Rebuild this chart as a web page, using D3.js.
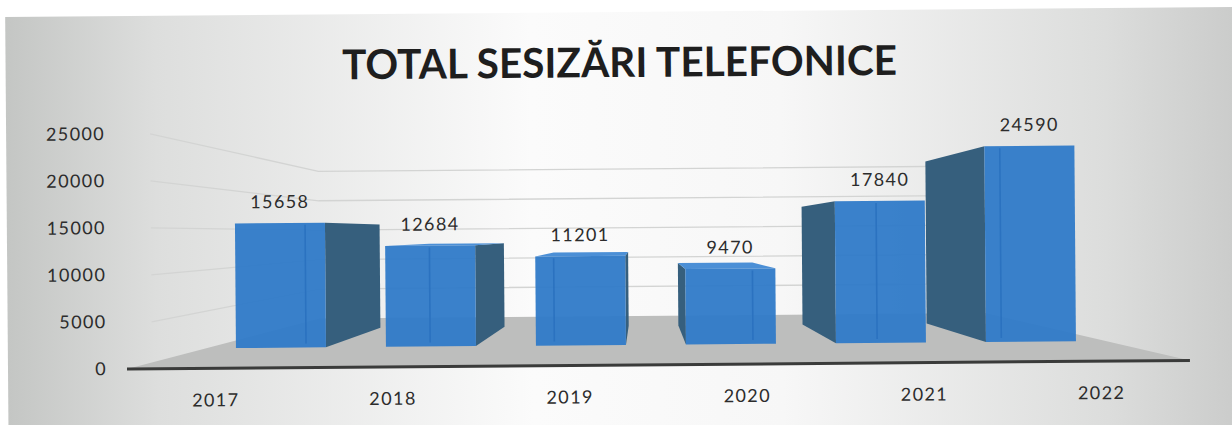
<!DOCTYPE html>
<html lang="ro">
<head>
<meta charset="UTF-8">
<title>Total sesizări telefonice</title>
<script src="https://d3js.org/d3.v7.min.js"></script>
<style>
  html, body { margin: 0; padding: 0; background: #ffffff; }
  svg { display: block; }
  .lbl { font-family: Lato, "Open Sans", sans-serif; font-size: 18px; fill: #2c2c2c; letter-spacing: 1.4px; }
  .title { font-family: Lato, "Open Sans", sans-serif; font-weight: 700; font-size: 41px; fill: #1e1e1e; }
</style>
</head>
<body>
<script>
// data
const years = ["2017", "2018", "2019", "2020", "2021", "2022"];
const values = [15658, 12684, 11201, 9470, 17840, 24590];
const yTicks = [0, 5000, 10000, 15000, 20000, 25000];
const title = "TOTAL SESIZĂRI TELEFONICE";

const W = 1232, H = 425;

const svg = d3.select("body").append("svg")
    .attr("width", W)
    .attr("height", H);

const defs = svg.append("defs");
const bg = defs.append("linearGradient").attr("id", "bg")
    .attr("x1", "0%").attr("x2", "100%").attr("y1", "0%").attr("y2", "0%");
[[0, "#c4c6c4"], [0.12, "#dddedd"], [0.42, "#fbfbfb"], [0.62, "#f7f7f7"], [0.88, "#dcdddc"], [1, "#c8c9c8"]]
    .forEach(([o, c]) => bg.append("stop").attr("offset", o).attr("stop-color", c));

// the scan is slightly rotated
const root = svg.append("g").attr("transform", "rotate(-0.46,127,369)");

root.append("rect")
    .attr("x", 8).attr("y", 16)
    .attr("width", 1250).attr("height", 430)
    .attr("fill", "url(#bg)");

// front-plane scales
const x = d3.scaleBand().domain(years).range([127, 1190]);
const y = d3.scaleLinear().domain([0, 25000]).range([369, 134]);
// depth: 0 = front edge of floor, 1 = back wall
const depth = d3.scaleLinear().domain([0, 1]).range([1, 0.626]);
const vp = { x: 643, y: 238 };

function proj(X, Y, d) {
  const s = depth(d);
  return [vp.x + (X - vp.x) * s, vp.y + (Y - vp.y) * s];
}
const line = d3.line();

const x0 = x.range()[0], x1 = x.range()[1];

// floor
root.append("path")
    .attr("d", line([proj(x0, y(0), 0), proj(x1, y(0), 0), proj(x1, y(0), 1), proj(x0, y(0), 1)]) + "Z")
    .attr("fill", "#bdbebd");

// gridlines on left wall and back wall
const grid = root.append("g")
    .attr("fill", "none")
    .attr("stroke", "#d3d4d3")
    .attr("stroke-width", 1.3);
yTicks.filter(t => t > 0).forEach(t => {
  grid.append("path").attr("d", line([
    proj(x0 + 25, y(t), 0), proj(x0, y(t), 1), proj(x1, y(t), 1)
  ]));
});

// bars
const barD0 = 0.41, barD1 = 0.80;
const bw = x.bandwidth() * 0.6;
const bars = years.map((yr, i) => {
  const xl = x(yr) + (x.bandwidth() - bw) / 2;
  return { yr, v: values[i], xl, xr: xl + bw, cx: xl + bw / 2 };
}).sort((a, b) => Math.abs(b.cx - vp.x) - Math.abs(a.cx - vp.x));

const barG = root.append("g");
bars.forEach(b => {
  const g = barG.append("g");
  const yt = y(b.v), yb = y(0);
  const sideX = b.cx < vp.x ? b.xr : b.xl;
  const farX = b.cx < vp.x ? b.xl : b.xr;

  g.append("path")
      .attr("d", line([proj(sideX, yt, barD0), proj(sideX, yt, barD1), proj(sideX, yb, barD1), proj(sideX, yb, barD0)]) + "Z")
      .attr("fill", "#365f7d");

  if (proj(b.xl, yt, barD0)[1] > vp.y) {
    g.append("path")
        .attr("d", line([proj(b.xl, yt, barD0), proj(b.xr, yt, barD0), proj(b.xr, yt, barD1), proj(b.xl, yt, barD1)]) + "Z")
        .attr("fill", "#4b8fd6");
  }

  g.append("path")
      .attr("d", line([proj(b.xl, yt, barD0), proj(b.xr, yt, barD0), proj(b.xr, yb, barD0), proj(b.xl, yb, barD0)]) + "Z")
      .attr("fill", "#2f7ac8")
      .attr("fill-opacity", 0.95);

  // back edge showing through the front face
  const eTop = proj(farX, yt, barD1), eBot = proj(farX, yb, barD1);
  const fBot = proj(farX, yb, barD0);
  g.append("path")
      .attr("d", line([[eTop[0], proj(farX, yt, barD0)[1] + 2], [eBot[0], fBot[1] - 4]]))
      .attr("stroke", "#2b72c0")
      .attr("stroke-width", 1.6);

  const top = proj(b.cx, yt, barD0);
  root.append("text")
      .attr("class", "lbl")
      .attr("x", top[0])
      .attr("y", top[1] - 15)
      .attr("text-anchor", "middle")
      .text(b.v);
});

// axis line (front edge of floor)
root.append("path")
    .attr("d", line([[x0, y(0)], [x1, y(0)]]))
    .attr("stroke", "#3a3b3a")
    .attr("stroke-width", 3);

// y tick labels
root.selectAll("text.ytick")
    .data(yTicks)
    .join("text")
    .attr("class", "lbl ytick")
    .attr("x", 107)
    .attr("y", d => y(d) + 6)
    .attr("text-anchor", "end")
    .text(d => d);

// category labels
root.selectAll("text.xtick")
    .data(years)
    .join("text")
    .attr("class", "lbl xtick")
    .attr("x", d => x(d) + x.bandwidth() / 2)
    .attr("y", 407)
    .attr("text-anchor", "middle")
    .text(d => d);

root.append("text")
    .attr("class", "title")
    .attr("x", 622)
    .attr("y", 81)
    .attr("text-anchor", "middle")
    .attr("textLength", 555)
    .attr("lengthAdjust", "spacingAndGlyphs")
    .text(title);
</script>
</body>
</html>
